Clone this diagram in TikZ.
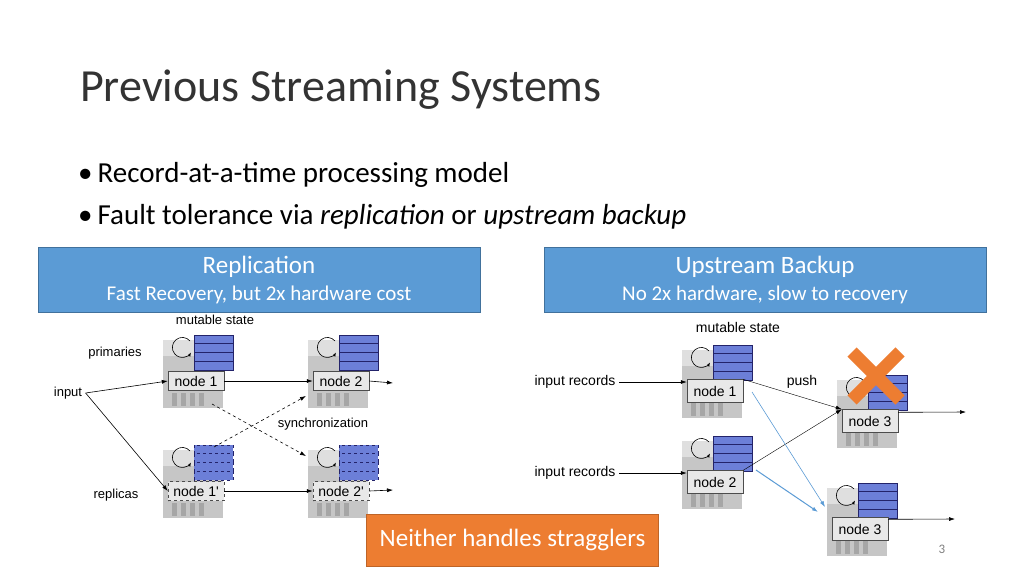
\documentclass[tikz,border=0pt]{standalone}
\usepackage{fontspec}
\setmainfont{Carlito}
\newfontfamily\lblfont{Liberation Sans}
\usetikzlibrary{arrows.meta,calc}
\definecolor{hdrblue}{HTML}{5B9BD5}
\definecolor{hdredge}{HTML}{41719C}
\definecolor{boxorange}{HTML}{ED7D31}
\definecolor{stateblue}{HTML}{6C7FD8}
\definecolor{statedark}{HTML}{23236A}
\tikzset{
  hdr/.style={draw=hdredge, fill=hdrblue, text=white, minimum width=442pt, minimum height=65pt, inner sep=0pt},
  lbl/.style={font=\lblfont\fontsize{13}{14}\selectfont},
  rlbl/.style={font=\lblfont\fontsize{14}{15}\selectfont},
  tag/.style={draw=black!70, fill=gray!18, font=\lblfont\fontsize{14}{15}\selectfont, minimum width=56pt, minimum height=19pt, inner sep=0pt},
  state/.style={draw=statedark, fill=stateblue, line width=0.6pt},
  flow/.style={-{Latex[length=6pt,width=4pt]}, line width=0.6pt},
  sync/.style={flow, dashed},
  fix/.style={-{Latex[length=6pt,width=4pt]}, color=hdrblue}
}
% server: name, label centre, text, extra style
\newcommand{\srv}[4]{%
  \fill[gray!45] ($#2+(-33,-41)$) rectangle ($#2+(27,27)$);
  \fill[gray!25] ($#2+(-33,-41)$) rectangle ($#2+(27,-25)$);
  \foreach \k in {0,...,3}
    \fill[gray!70] ($#2+(-24+\k*9,12)$) rectangle ++(5,13);
  \foreach \i in {0,...,3}
    \draw[state,#4] ($#2+(-2,-46)+(0,\i*8.75)$) rectangle ++(39,8.75);
  \draw[-{Latex[length=4pt]}, line width=0.6pt] ($#2+(-6,-40)$) arc[start angle=40, end angle=330, radius=10pt];
  \node[tag,#4] (#1) at #2 {#3};
}
\begin{document}
\begin{tikzpicture}[x=1pt, y=-1pt]
\useasboundingbox[fill=white] (0,0) rectangle (1024,576);

% Title and bullets
\node[anchor=base west, font=\fontsize{46}{50}\selectfont, text=black!80, inner sep=0pt] (title) at (80,101) {Previous Streaming Systems};
\node[anchor=base west, font=\fontsize{29}{32}\selectfont, inner sep=0pt] (b1) at (78,182) {\textbullet\hspace{5pt}Record-at-a-time processing model};
\node[anchor=base west, font=\fontsize{29}{32}\selectfont, inner sep=0pt] (b2) at (78,224) {\textbullet\hspace{5pt}Fault tolerance via \textit{replication} or \textit{upstream backup}};

% Headers
\node[hdr] (hrep) at (259,279.5) {};
\node[hdr] (hup) at (765,279.5) {};
\node[text=white, font=\fontsize{25}{28}\selectfont] (hrep1) at (259,267) {Replication};
\node[text=white, font=\fontsize{21}{24}\selectfont] (hrep2) at (259,295) {Fast Recovery, but 2x hardware cost};
\node[text=white, font=\fontsize{25}{28}\selectfont] (hup1) at (765,267) {Upstream Backup};
\node[text=white, font=\fontsize{21}{24}\selectfont] (hup2) at (765,295) {No 2x hardware, slow to recovery};

% Replication
\srv{n1}{(196,381)}{node 1}{}
\srv{n2}{(341,381)}{node 2}{}
\srv{r1}{(196,491)}{node 1'}{dashed}
\srv{r2}{(341,491)}{node 2'}{dashed}
\node[lbl] (ms1) at (215,320) {mutable state};
\node[lbl] (prim) at (115,353) {primaries};
\node[lbl] (inp) at (68,393) {input};
\node[lbl] (repl) at (116,495) {replicas};
\node[lbl] (syn) at (323,424) {synchronization};
\coordinate (o2) at (393,383);
\coordinate (o2r) at (393,490);
\draw[flow] (inp.east) -- (n1.west);
\draw[flow] (inp.east) -- (r1.west);
\draw[flow] (n1.east) -- (n2.west);
\draw[flow] (r1.east) -- (r2.west);
\draw[flow] (n2.east) -- (o2);
\draw[flow] (r2.east) -- (o2r);
\draw[sync] (212,404) -- (306,456);
\draw[sync] (214,447) -- (306,396);

% Upstream backup
\srv{u1}{(715,391)}{node 1}{minimum height=23pt}
\srv{u2}{(715,482)}{node 2}{minimum height=23pt}
\srv{u3}{(870,421)}{node 3}{minimum height=23pt}
\srv{u4}{(860,529)}{node 3}{minimum height=23pt}
\node[rlbl] (ms2) at (738,327) {mutable state};
\node[rlbl] (in1) at (575,382) {input records};
\node[rlbl] (in2) at (575,473) {input records};
\node[rlbl] (push) at (802,382) {push};
\coordinate (o3) at (966,412);
\coordinate (o4) at (955,519);
\draw[flow] (in1.east) -- (u1.west |- in1);
\draw[flow] (in2.east) -- (u2.west |- in2);
\draw[flow, line width=0.4pt] (u1.north east) -- (u3.north west);
\draw[flow, line width=0.4pt] (u2.north east) -- (u3.north west);
\draw[flow] (u3.north east) ++(0,3) -- (o3);
\draw[flow] (u4.north east) ++(0,2) -- (o4);
\draw[fix, line width=0.6pt] (752,392) -- (825,507);
\draw[fix, line width=1pt] (756,470) -- (818,512);

% Crossed-out node
\draw[boxorange, line width=13pt] (852,352) -- (900,400) (852,400) -- (900,352);

% Bottom note
\node[fill=boxorange, draw=boxorange!80!black, text=white, font=\fontsize{25}{28}\selectfont, minimum width=292pt, minimum height=52pt] (note) at (512.5,540) {Neither handles stragglers};
\node[text=gray, font=\fontsize{13}{14}\selectfont] (pg) at (942,549) {3};
\end{tikzpicture}
\end{document}
